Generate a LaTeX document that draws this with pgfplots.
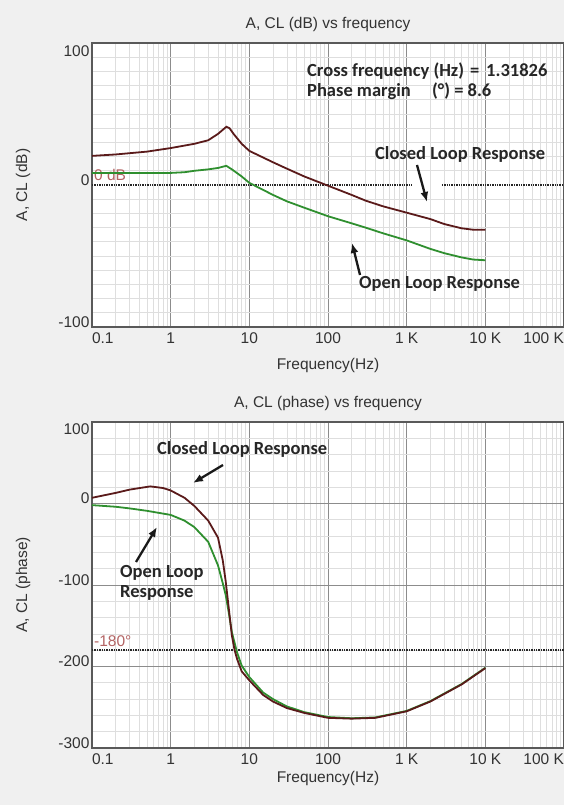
\documentclass[border=0pt]{standalone}
\usepackage{fontspec}
\setmainfont{Liberation Sans}
\newfontfamily\annofont{Carlito}
\usepackage{pgfplots}
\pgfplotsset{compat=1.18}
\usetikzlibrary{arrows.meta}

\definecolor{winbg}{HTML}{F0F0F0}
\definecolor{closedc}{HTML}{5A1A1A}
\definecolor{openc}{HTML}{2F8F2F}
\definecolor{refred}{HTML}{B46464}
\definecolor{majgrid}{HTML}{8C8C8C}
\definecolor{mingrid}{HTML}{DEDEDE}

\newcommand\lab{\fontsize{15.5}{17}\selectfont}

\tikzset{
  clline/.style={draw=closedc, line width=1.8pt},
  olline/.style={draw=openc, line width=1.8pt},
  refdot/.style={draw=black!85, densely dotted, line width=1.4pt},
  anno/.style={font={\annofont\bfseries\fontsize{18.5}{20}\selectfont},
    text=black!85, inner sep=0pt, anchor=base west},
  pointer/.style={line width=2.3pt, black!90, -{Latex[length=10pt,width=8pt]}},
  reflabel/.style={text=refred, inner sep=0pt, anchor=base west, xshift=2pt,
    yshift=4pt, font=\lab},
}

\pgfplotsset{
  every axis/.append style={
    scale only axis, width=472pt,
    xmin=0.1, xmax=1e5,
    xmajorgrids, xminorgrids,
    major grid style={majgrid, line width=0.8pt},
    minor grid style={mingrid, line width=0.6pt},
    major tick length=0pt, minor tick length=0pt,
    axis line style={black!65, line width=1.3pt},
    tick label style={font=\lab, text=black!80},
    xticklabel style={yshift=-2pt},
    yticklabel style={anchor=east, yshift=5pt, xshift=1pt},
    title style={at={(0.5,1)}, anchor=base, yshift=8pt, font=\lab, text=black!80},
    xlabel style={at={(axis description cs:0.5,0)}, anchor=base, font=\lab, text=black!80},
    ylabel style={at={(axis description cs:-0.146,0.5)}, anchor=center, font=\lab, text=black!80},
  },
}

\begin{document}
\begin{tikzpicture}
\fill[winbg] (0,0) rectangle (564pt,805pt);

% magnitude
\begin{semilogxaxis}[
  at={(92pt,478pt)}, anchor=south west, height=284pt,
  axis background/.style={fill=white},
  xtick={0.1,1,10,100,1000,10000,100000},
  xticklabels={\rlap{0.1},1,10,100,1 K,10 K,\llap{100 K}},
  minor xtick={0.2,0.3,0.4,0.5,0.6,0.7,0.8,0.9,2,3,4,5,6,7,8,9,
    20,30,40,50,60,70,80,90,200,300,400,500,600,700,800,900,
    2000,3000,4000,5000,6000,7000,8000,9000,
    20000,30000,40000,50000,60000,70000,80000,90000},
  ymin=-100, ymax=100,
  ytick={-100,0,100},
  yticklabels={-100,0,\raisebox{-19pt}[0pt][0pt]{100}},
  minor ytick={-90,-80,-70,-60,-50,-40,-30,-20,-10,10,20,30,40,50,60,70,80,90},
  yminorgrids,
  title={A, CL (dB) vs frequency},
  xlabel={Frequency(Hz)},
  ylabel={A, CL (dB)},
  xlabel style={yshift=-43pt},
]
\addplot[refdot] coordinates {(0.1,0) (1164,0)};
\addplot[refdot] coordinates {(2800,0) (100000,0)};
\node[reflabel] at (axis cs:0.1,0) {0 dB};
\addplot[olline] coordinates {
  (0.1,8.5) (0.5,8.5) (1,8.5) (1.5,9) (2,10) (3,11) (4,12) (5.1,13.5)
  (6,11) (8,6) (10,1.5) (20,-7) (30,-11.5) (50,-16) (100,-22) (200,-27)
  (300,-30) (500,-34) (1000,-39) (2000,-45) (3000,-48) (5000,-51)
  (7000,-52.5) (10000,-53)};
\addplot[clline] coordinates {
  (0.1,20.5) (0.2,21.5) (0.5,23.5) (1,26) (2,29) (3,31.5) (4,36) (5.1,41)
  (5.6,40) (6.3,36) (8,29) (10,24) (20,16) (30,11.5) (50,6) (100,-0.5)
  (200,-7) (300,-11) (500,-15) (1000,-19.5) (2000,-24) (3000,-27.5)
  (5000,-30.5) (7000,-31.5) (10000,-31.5)};
\end{semilogxaxis}

% phase
\begin{semilogxaxis}[
  at={(92pt,57pt)}, anchor=south west, height=326pt,
  axis background/.style={fill=white},
  xtick={0.1,1,10,100,1000,10000,100000},
  xticklabels={\rlap{0.1},1,10,100,1 K,10 K,\llap{100 K}},
  minor xtick={0.2,0.3,0.4,0.5,0.6,0.7,0.8,0.9,2,3,4,5,6,7,8,9,
    20,30,40,50,60,70,80,90,200,300,400,500,600,700,800,900,
    2000,3000,4000,5000,6000,7000,8000,9000,
    20000,30000,40000,50000,60000,70000,80000,90000},
  ymin=-300, ymax=100,
  ytick={-300,-200,-100,0,100},
  yticklabels={-300,-200,-100,0,\raisebox{-18pt}[0pt][0pt]{100}},
  minor ytick={-280,-260,-240,-220,-180,-160,-140,-120,-80,-60,-40,-20,20,40,60,80},
  ymajorgrids, yminorgrids,
  title={A, CL (phase) vs frequency},
  xlabel={Frequency(Hz)},
  ylabel={A, CL (phase)},
  xlabel style={yshift=-35pt},
]
\addplot[refdot] coordinates {(0.1,-180) (100000,-180)};
\node[reflabel] at (axis cs:0.1,-180) {-180°};
\addplot[olline] coordinates {
  (0.1,-2) (0.2,-4) (0.3,-6) (0.5,-9) (1,-14) (1.5,-21) (2,-29) (3,-47)
  (4,-76) (4.6,-98) (5,-112) (5.5,-135) (6,-158) (7,-183) (8,-199)
  (10,-213) (15,-232) (20,-240) (30,-249) (50,-256) (100,-262)
  (200,-263.5) (400,-262.5) (1000,-254.5) (2000,-242.5) (5000,-221.5)
  (10000,-201.5)};
\addplot[clline] coordinates {
  (0.1,7) (0.2,13) (0.3,17) (0.55,21) (0.8,19) (1,16) (1.5,7) (2,-3)
  (3,-21) (4,-42) (4.6,-70) (5,-95) (5.5,-130) (6,-162) (6.5,-180)
  (7,-191) (8,-206) (10,-217) (15,-235) (20,-243) (30,-251) (50,-257)
  (100,-263) (200,-264) (400,-263) (1000,-255) (2000,-243) (5000,-222)
  (10000,-202)};
\end{semilogxaxis}

% annotations
\node[anno] at (307pt,728pt) {Cross frequency (Hz)};
\node[anno] at (470pt,728pt) {=};
\node[anno] at (486pt,728pt) {1.31826};
\node[anno] at (307pt,708pt) {Phase margin};
\node[anno] at (432pt,708pt) {(°) = 8.6};
\node[anno] at (375pt,645pt) {Closed Loop Response};
\draw[pointer] (417pt,640pt) -- (427pt,603pt);
\node[anno] at (359pt,516pt) {Open Loop Response};
\draw[pointer] (360pt,530pt) -- (352pt,562pt);

\node[anno] at (157pt,350pt) {Closed Loop Response};
\draw[pointer] (223pt,340pt) -- (193pt,322pt);
\node[anno] at (120pt,227pt) {Open Loop};
\node[anno] at (120pt,207pt) {Response};
\draw[pointer] (136pt,243pt) -- (157pt,278pt);

\pgfresetboundingbox
\useasboundingbox (0,0) rectangle (564pt,805pt);
\end{tikzpicture}
\end{document}
